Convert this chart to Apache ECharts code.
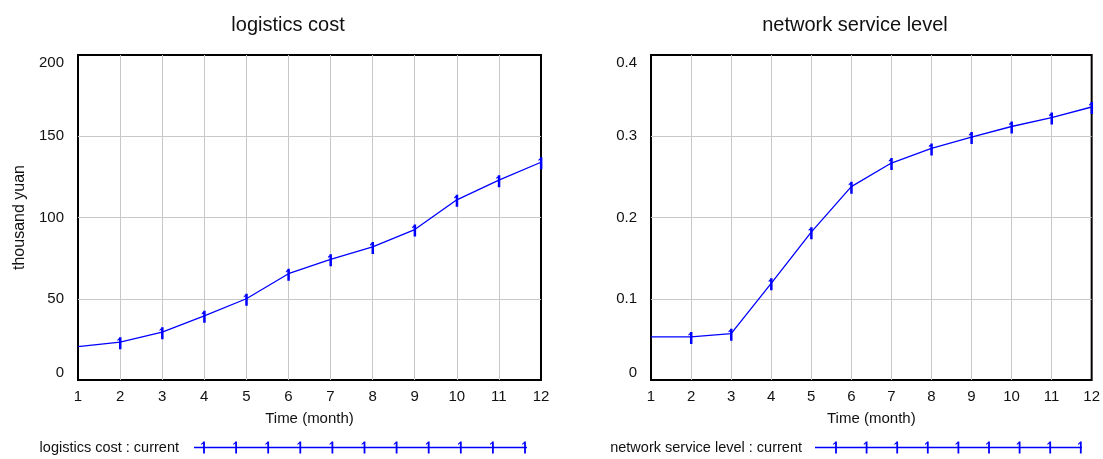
<!DOCTYPE html>
<html>
<head>
<meta charset="utf-8">
<script src="https://cdn.jsdelivr.net/npm/echarts@6/dist/echarts.min.js"></script>
<style>
  html, body { margin: 0; padding: 0; background: #fff; }
  #chart { width: 1103px; height: 459px; }
</style>
</head>
<body>
<div id="chart"></div>
<script>
// ---- data ----
const months = [1, 2, 3, 4, 5, 6, 7, 8, 9, 10, 11, 12];
const logisticsCost = [20.5, 23.3, 29.4, 39.5, 50, 65.4, 74.3, 81.9, 92.6, 110.9, 123, 134];
const serviceLevel = [0.053, 0.053, 0.057, 0.119, 0.182, 0.238, 0.267, 0.285, 0.299, 0.312, 0.323, 0.336];
const costTicks = { min: 0, max: 200, interval: 50 };
const levelTicks = { min: 0, max: 0.4, interval: 0.1 };
const titles = ['logistics cost', 'network service level'];
const seriesNames = ['logistics cost : current', 'network service level : current'];
const xName = 'Time (month)';
const yName = 'thousand yuan';

// ---- styling helpers ----
const FONT = "'Liberation Sans', Arial, sans-serif";
const BLUE = '#0000ff';
const markerPath = 'path://M1.2,0 L3.2,0 L3.2,12 L1.2,12 Z M0,2.4 L1.2,1 L1.2,2.6 L0,3.8 Z';

function legendIcon(width, first, step, count) {
  let p = 'M0,5.3 L' + width + ',5.3 L' + width + ',6.7 L0,6.7 Z';
  for (let i = 0; i < count; i++) {
    const t = first + step * i;
    p += ' M' + (t - 0.9) + ',0 L' + (t + 0.9) + ',0 L' + (t + 0.9) + ',12 L' + (t - 0.9) + ',12 Z';
    p += ' M' + (t - 2.8) + ',2.2 L' + (t - 0.9) + ',0.6 L' + (t - 0.9) + ',2 L' + (t - 2.8) + ',3.4 Z';
  }
  return 'path://' + p;
}

function toData(vals) {
  return months.map((m, i) => i === 0 ? { value: [m, vals[i]], symbol: 'none' } : [m, vals[i]]);
}

function xAxis(gridIndex) {
  return {
    type: 'value', gridIndex, min: 1, max: 12, interval: 1,
    name: xName, nameLocation: 'middle', nameGap: 31,
    nameTextStyle: { fontFamily: FONT, fontSize: 15, color: '#111' },
    axisLine: { show: false }, axisTick: { show: false },
    axisLabel: { fontFamily: FONT, fontSize: 15, color: '#111', margin: 9 },
    splitLine: { show: true, showMinLine: false, showMaxLine: false, lineStyle: { color: '#c8c8c8', width: 1 } }
  };
}

function yAxis(gridIndex, t, name) {
  return {
    type: 'value', gridIndex, min: t.min, max: t.max, interval: t.interval,
    name: name || '', nameLocation: 'middle', nameGap: 50, nameRotate: 90,
    nameTextStyle: { fontFamily: FONT, fontSize: 16, color: '#111' },
    axisLine: { show: false }, axisTick: { show: false },
    axisLabel: { fontFamily: FONT, fontSize: 15, color: '#111', margin: 14,
      verticalAlignMaxLabel: 'top', verticalAlignMinLabel: 'bottom' },
    splitLine: { show: true, showMinLine: false, showMaxLine: false, lineStyle: { color: '#c8c8c8', width: 1 } }
  };
}

function lineSeries(name, idx, vals) {
  return {
    type: 'line', name, xAxisIndex: idx, yAxisIndex: idx,
    data: toData(vals),
    symbol: markerPath, symbolSize: [4, 12], symbolOffset: [-0.6, 1],
    showAllSymbol: true, clip: false,
    lineStyle: { color: BLUE, width: 1.3 },
    itemStyle: { color: BLUE, borderWidth: 0 },
    emphasis: { disabled: true },
    animation: false
  };
}

const chart = echarts.init(document.getElementById('chart'), null, { renderer: 'canvas' });
chart.setOption({
  animation: false,
  backgroundColor: '#fff',
  title: [
    { text: titles[0], left: 288, top: 15, padding: 0, textAlign: 'center',
      textStyle: { fontFamily: FONT, fontSize: 20, fontWeight: 'normal', color: '#111' } },
    { text: titles[1], left: 855, top: 15, padding: 0, textAlign: 'center',
      textStyle: { fontFamily: FONT, fontSize: 20, fontWeight: 'normal', color: '#111' } }
  ],
  grid: [
    { left: 78, right: 562, top: 55, bottom: 79, show: true, borderColor: '#000', borderWidth: 2, backgroundColor: 'transparent' },
    { left: 651, right: 9, top: 55, bottom: 79, show: true, borderColor: '#000', borderWidth: 2, backgroundColor: 'transparent' }
  ],
  xAxis: [xAxis(0), xAxis(1)],
  yAxis: [yAxis(0, costTicks, yName), yAxis(1, levelTicks)],
  legend: [
    { data: [seriesNames[0]], right: 576, top: 440, padding: 0, align: 'right',
      icon: legendIcon(333, 10, 32.1, 11), itemWidth: 333, itemHeight: 12,
      itemStyle: { color: BLUE, borderWidth: 0 },
      textStyle: { fontFamily: FONT, fontSize: 14.5, color: '#111', padding: [0, 10, 0, 0] },
      selectedMode: false },
    { data: [seriesNames[1]], right: 21, top: 440, padding: 0, align: 'right',
      icon: legendIcon(267, 21, 30.6, 9), itemWidth: 267, itemHeight: 12,
      itemStyle: { color: BLUE, borderWidth: 0 },
      textStyle: { fontFamily: FONT, fontSize: 14.5, color: '#111', padding: [0, 8, 0, 0] },
      selectedMode: false }
  ],
  series: [
    lineSeries(seriesNames[0], 0, logisticsCost),
    lineSeries(seriesNames[1], 1, serviceLevel)
  ]
});
</script>
</body>
</html>
